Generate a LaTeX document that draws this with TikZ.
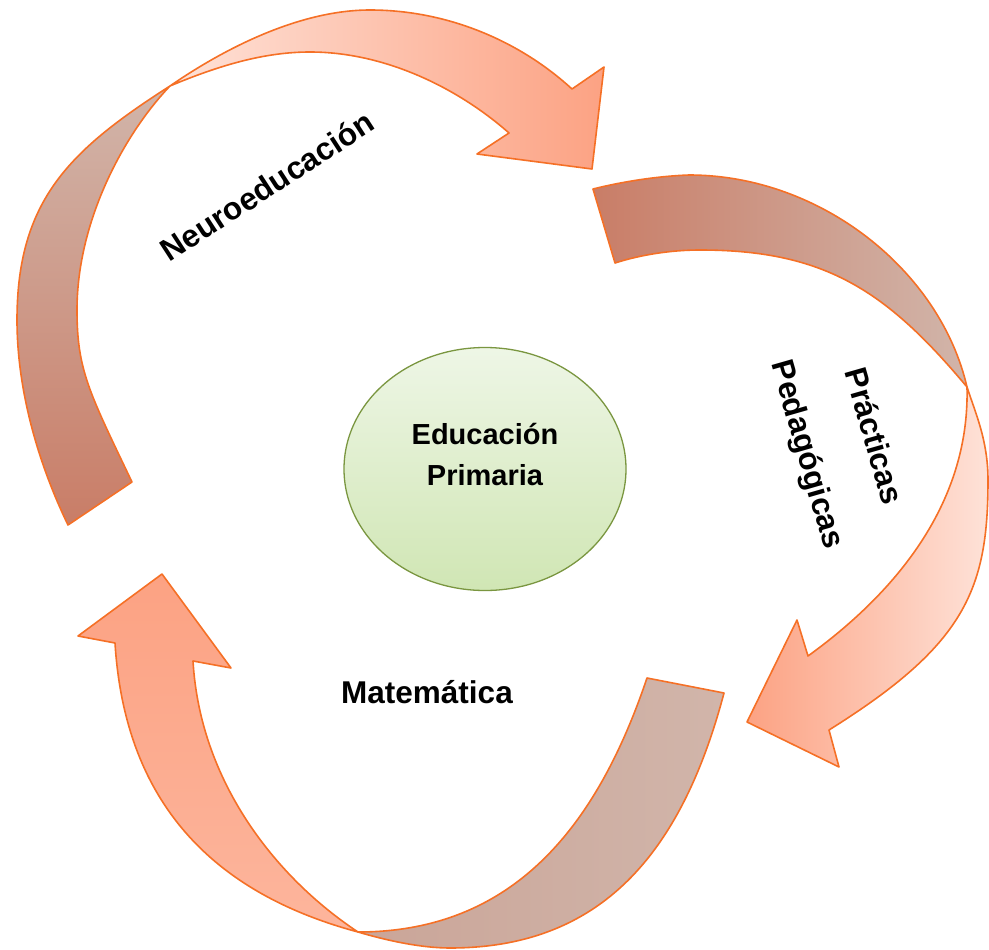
\documentclass[tikz,border=0pt]{standalone}
\usepackage{fontspec}
\setmainfont{Liberation Sans}
\usetikzlibrary{shapes.geometric}

\definecolor{ribbonedge}{RGB}{245,112,38}
\definecolor{salmon}{RGB}{252,162,131}
\definecolor{salmonlight}{RGB}{254,226,216}
\definecolor{backdark}{RGB}{201,125,103}
\definecolor{backlight}{RGB}{209,181,170}
\definecolor{backmid}{RGB}{202,165,152}
\definecolor{leafedge}{RGB}{122,150,64}
\definecolor{leaftop}{RGB}{238,246,230}
\definecolor{leafbottom}{RGB}{208,230,180}

\tikzset{
  ribbon/.style={draw=ribbonedge, line width=1.6pt, line join=round},
  lbl/.style={font=\bfseries\fontsize{31.5}{38}\selectfont, inner sep=0pt},
  leaf/.style={ellipse, draw=leafedge, line width=1.3pt, top color=leaftop,
    bottom color=leafbottom, minimum width=282pt, minimum height=243pt, inner sep=0pt}
}

\begin{document}
\begin{tikzpicture}[x=1pt,y=-1pt]
\useasboundingbox (0,0) rectangle (989,950);

% arrow Neuroeducacion
\draw[ribbon, top color=backlight, bottom color=backdark]
  (68,525) .. controls (38,463) and (17,390) .. (17,320)
  .. controls (17,200) and (70,150) .. (170,86)
  .. controls (125,133) and (77,220) .. (77,310)
  .. controls (77,370) and (89,392) .. (132,482) -- cycle;
\draw[ribbon, left color=salmonlight, right color=salmon]
  (170,86) .. controls (220,65) and (265,52) .. (310,52)
  .. controls (385,52) and (458,88) .. (509,133)
  -- (477,154) -- (592,169) -- (604,67) -- (572,89)
  .. controls (522,43) and (450,10) .. (370,10)
  .. controls (300,10) and (225,48) .. (170,86) -- cycle;

% arrow Practicas Pedagogicas
\draw[ribbon, left color=backdark, right color=backlight]
  (593,189) .. controls (625,181) and (660,176) .. (689,175)
  .. controls (820,175) and (940,270) .. (967,387)
  .. controls (886,290) and (824,250) .. (700,250)
  .. controls (670,250) and (640,255) .. (615,263) -- cycle;
\draw[ribbon, left color=salmon, right color=salmonlight]
  (967,387) .. controls (970,507) and (891,596) .. (808,656)
  -- (797,620) -- (747,722) -- (839,767) -- (829,730)
  .. controls (965,645) and (988,590) .. (988,480)
  .. controls (988,440) and (975,412) .. (967,387) -- cycle;

% arrow Matematica
\draw[ribbon, left color=backmid, right color=backlight]
  (358,932) .. controls (385,940) and (420,948) .. (450,948)
  .. controls (600,948) and (681,855) .. (724,693)
  -- (647,678)
  .. controls (599,820) and (518,932) .. (358,932) -- cycle;
\draw[ribbon, top color=salmon, bottom color=salmon!70!salmonlight]
  (358,932) .. controls (275,877) and (200,781) .. (193,661)
  -- (231,668) -- (162,574) -- (78,636) -- (115,643)
  .. controls (125,803) and (213,893) .. (358,932) -- cycle;

\node[leaf] (prim) at (485,469) {};
\node[font=\bfseries\fontsize{29}{41}\selectfont, align=center] (edu) at (485,455) {Educación\\Primaria};

\node[lbl, rotate=33] (neuro) at (267,186) {Neuroeducación};
\node[lbl, rotate=-74] (prac) at (875,436) {Prácticas};
\node[lbl, rotate=-74] (peda) at (806,455) {Pedagógicas};
\node[lbl, anchor=base] (mate) at (427,703) {Matemática};
\end{tikzpicture}
\end{document}
